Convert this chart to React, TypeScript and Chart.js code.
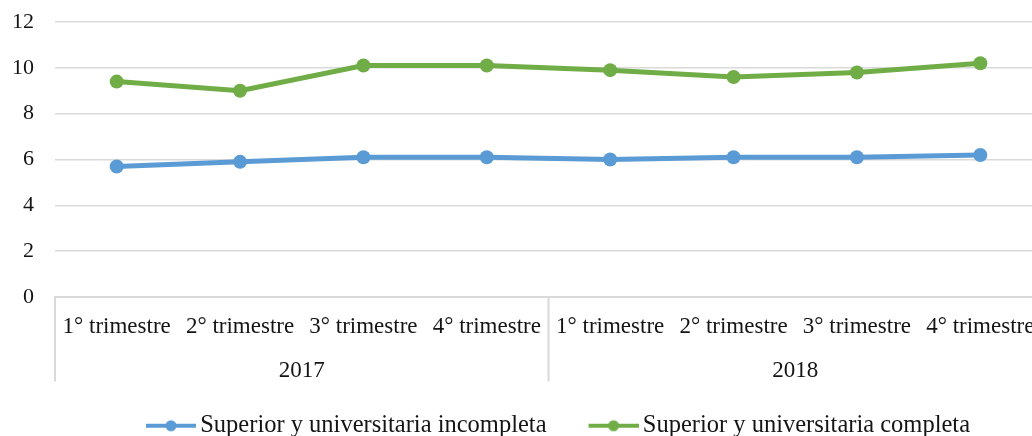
import React, { useEffect, useRef } from "react";
import { Chart, registerables } from "chart.js";

Chart.register(...registerables);

const categories = [
  "1° trimestre",
  "2° trimestre",
  "3° trimestre",
  "4° trimestre",
  "1° trimestre",
  "2° trimestre",
  "3° trimestre",
  "4° trimestre",
];
const years = ["2017", "2018"];
const seriesNames = [
  "Superior y universitaria incompleta",
  "Superior y universitaria completa",
];
const incompleta = [5.7, 5.9, 6.1, 6.1, 6.0, 6.1, 6.1, 6.2];
const completa = [9.4, 9.0, 10.1, 10.1, 9.9, 9.6, 9.8, 10.2];
const yMin = 0;
const yMax = 12;
const yStep = 2;

const colors = ["#5b9bd5", "#70ad47"];
const FONT = "'Liberation Serif', 'Times New Roman', serif";
const TEXT = "#141414";
const GRID = "#d9d9d9";

function makeMarker(color: string) {
  const c = document.createElement("canvas");
  c.width = 72;
  c.height = 14;
  const ctx = c.getContext("2d")!;
  ctx.strokeStyle = color;
  ctx.lineWidth = 4;
  ctx.beginPath();
  ctx.moveTo(22, 7);
  ctx.lineTo(72, 7);
  ctx.stroke();
  ctx.fillStyle = color;
  ctx.beginPath();
  ctx.arc(47, 7, 5.5, 0, Math.PI * 2);
  ctx.fill();
  return c;
}

const separators = {
  id: "groupSeparators",
  afterDraw(chart: any) {
    const x = chart.scales.x;
    const x2 = chart.scales.x2;
    const ctx = chart.ctx;
    const perGroup = categories.length / years.length;
    const half = (x.getPixelForValue(1) - x.getPixelForValue(0)) / 2;
    const pos: number[] = [];
    for (let g = 0; g <= years.length; g++) {
      if (g === years.length) pos.push(x.getPixelForValue(categories.length - 1) + half);
      else pos.push(x.getPixelForValue(g * perGroup) - half);
    }
    ctx.save();
    ctx.strokeStyle = GRID;
    ctx.lineWidth = 2;
    pos.forEach((p) => {
      ctx.beginPath();
      ctx.moveTo(p, x.top);
      ctx.lineTo(p, x2.bottom - 4);
      ctx.stroke();
    });
    ctx.restore();
  },
};

export default function App() {
  const ref = useRef<HTMLCanvasElement | null>(null);

  useEffect(() => {
    if (!ref.current) return;
    const markers = colors.map((c) => makeMarker(c));
    const chart = new Chart(ref.current, {
      type: "line",
      data: {
        labels: categories,
        datasets: [
          {
            label: seriesNames[0],
            data: incompleta,
            borderColor: colors[0],
            backgroundColor: colors[0],
            borderWidth: 5,
            pointRadius: 7,
            pointBorderWidth: 0,
            pointBackgroundColor: colors[0],
            tension: 0,
            xAxisID: "x",
            yAxisID: "y",
          },
          {
            label: seriesNames[1],
            data: completa,
            borderColor: colors[1],
            backgroundColor: colors[1],
            borderWidth: 5,
            pointRadius: 7,
            pointBorderWidth: 0,
            pointBackgroundColor: colors[1],
            tension: 0,
            xAxisID: "x",
            yAxisID: "y",
          },
        ],
      },
      options: {
        responsive: false,
        animation: false,
        layout: { padding: { top: 22, left: 0, right: 0, bottom: 0 } },
        scales: {
          y: {
            type: "linear",
            position: "left",
            min: yMin,
            max: yMax,
            ticks: {
              stepSize: yStep,
              padding: 0,
              color: TEXT,
              font: { family: FONT, size: 22 },
            },
            grid: {
              color: GRID,
              lineWidth: 1.6,
              drawTicks: true,
              tickLength: 21,
              tickColor: "rgba(0,0,0,0)",
            },
            border: { display: false },
            afterFit: (s: any) => {
              s.width = 55;
            },
          },
          yR: {
            type: "linear",
            position: "right",
            display: true,
            ticks: { display: false },
            grid: { display: false, drawTicks: false },
            border: { display: false },
            afterFit: (s: any) => {
              s.width = 60;
            },
          },
          x: {
            type: "category",
            position: "bottom",
            offset: true,
            grid: { display: false, drawTicks: false },
            border: { display: true, color: GRID, width: 2 },
            ticks: {
              padding: 16,
              color: TEXT,
              maxRotation: 0,
              autoSkip: false,
              font: { family: FONT, size: 23 },
            },
          },
          x2: {
            type: "category",
            position: "bottom",
            labels: years,
            offset: true,
            grid: { display: false, drawTicks: false },
            border: { display: false },
            ticks: {
              padding: 0.6,
              color: TEXT,
              maxRotation: 0,
              autoSkip: false,
              font: { family: FONT, size: 23 },
            },
          },
        },
        plugins: {
          tooltip: { enabled: false },
          legend: {
            display: true,
            position: "bottom",
            labels: {
              usePointStyle: true,
              pointStyleWidth: 56,
              boxHeight: 25,
              padding: 28,
              color: TEXT,
              font: { family: FONT, size: 24.5 },
              generateLabels: (ch: any) =>
                ch.data.datasets.map((ds: any, i: number) => ({
                  text: ds.label,
                  pointStyle: markers[i],
                  fillStyle: colors[i],
                  strokeStyle: colors[i],
                  lineWidth: 0,
                  hidden: false,
                  datasetIndex: i,
                  fontColor: TEXT,
                })),
            },
          },
        },
      },
      plugins: [separators],
    } as any);
    return () => chart.destroy();
  }, []);

  return (
    <div
      style={{
        position: "absolute",
        left: 0,
        top: 0,
        width: 1032,
        height: 436,
        overflow: "hidden",
        background: "#fff",
      }}
    >
      <canvas ref={ref} width={1102} height={448} style={{ display: "block" }} />
    </div>
  );
}
